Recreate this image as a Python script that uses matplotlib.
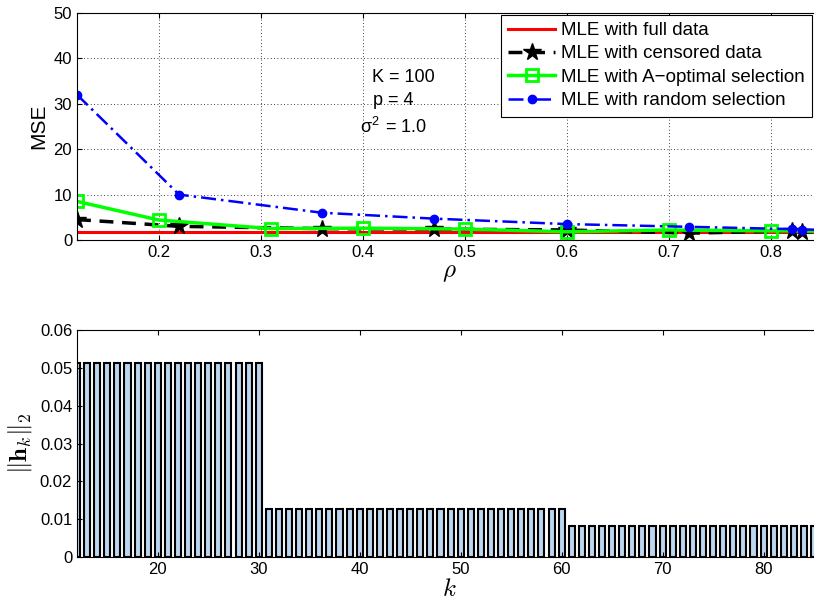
import matplotlib.pyplot as plt
import numpy as np

plt.rcParams["font.family"] = ["Liberation Sans", "DejaVu Sans"]
plt.rcParams["mathtext.fontset"] = "cm"

# top panel: MSE vs rho
rho_cens = [0.12, 0.22, 0.36, 0.47, 0.60, 0.72, 0.82, 0.83, 0.87]
mse_full = [1.8, 1.8, 1.8, 1.8, 1.8, 1.8, 1.8, 1.8, 1.8]
mse_cens = [4.5, 3.0, 2.5, 2.4, 2.2, 1.5, 2.0, 1.8, 1.8]
mse_rand = [32.0, 10.0, 6.0, 4.7, 3.5, 2.9, 2.4, 2.3, 2.2]
rho_aopt = [0.12, 0.20, 0.31, 0.40, 0.50, 0.60, 0.70, 0.80, 0.87]
mse_aopt = [8.5, 4.4, 2.5, 2.6, 2.4, 1.8, 2.2, 2.0, 1.9]

# bottom panel: ||h_k||_2 per k
k_vals = np.arange(12, 87)
h_norm = [0.0512] * 19 + [0.0128] * 30 + [0.0081] * 26

fig = plt.figure(figsize=(8.14, 6.06), dpi=100)

ax1 = fig.add_axes([0.0946, 0.604, 0.9154, 0.3745])
ax1.plot(rho_cens, mse_full, color="red", lw=2.2, label="MLE with full data")
ax1.plot(rho_cens, mse_cens, color="black", lw=2.5, ls=(0, (4, 2.5)), marker="*",
         ms=13, label="MLE with censored data")
ax1.plot(rho_aopt, mse_aopt, color="#00ff00", lw=2.5, marker="s", ms=9,
         mfc="none", mew=2, label="MLE with A\u2212optimal selection")
ax1.plot(rho_cens, mse_rand, color="blue", lw=1.8, ls=(0, (6, 2, 1, 2)), marker="o",
         ms=6, label="MLE with random selection")
ax1.set_xlim(0.12, 0.85)
ax1.set_ylim(0, 50)
ax1.set_xticks([0.2, 0.3, 0.4, 0.5, 0.6, 0.7, 0.8])
ax1.set_yticks([0, 10, 20, 30, 40, 50])
ax1.grid(True, color="black", ls=(0, (1, 3)), lw=0.6)
ax1.tick_params(direction="in", top=True, right=True, labelsize=12)
ax1.set_ylabel("MSE", fontsize=15)
ax1.set_xlabel(r"$\rho$", fontsize=18, labelpad=0)
ax1.text(0.44, 35.9, "K = 100", ha="center", va="center", fontsize=13)
ax1.text(0.43, 30.8, "p = 4", ha="center", va="center", fontsize=13)
ax1.text(0.43, 25.0, "\u03c3$^{\\mathregular{2}}$ = 1.0", ha="center", va="center",
         fontsize=13)
leg = ax1.legend(loc="upper right", bbox_to_anchor=(0.9975, 0.976),
                 bbox_transform=fig.transFigure, fontsize=13.5, handlelength=2.5,
                 fancybox=False, framealpha=1, borderpad=0.4, labelspacing=0.33,
                 handletextpad=0.3, borderaxespad=0)
leg.get_frame().set_edgecolor("black")
leg.get_frame().set_linewidth(0.8)

ax2 = fig.add_axes([0.0946, 0.0809, 0.9154, 0.3745])
ax2.bar(k_vals, h_norm, width=0.6, color="#bcd6f0", edgecolor="black", lw=1.5)
ax2.set_xlim(12, 85.8)
ax2.set_ylim(0, 0.06)
ax2.set_xticks([20, 30, 40, 50, 60, 70, 80])
ax2.set_yticks([0, 0.01, 0.02, 0.03, 0.04, 0.05, 0.06])
ax2.set_yticklabels(["0", "0.01", "0.02", "0.03", "0.04", "0.05", "0.06"])
ax2.tick_params(direction="in", top=True, right=True, labelsize=12)
ax2.set_ylabel(r"$\Vert\mathbf{h}_k\Vert_2$", fontsize=18)
ax2.set_xlabel(r"$k$", fontsize=18, labelpad=0)

fig.savefig("out.png", dpi=100)
plt.close(fig)
